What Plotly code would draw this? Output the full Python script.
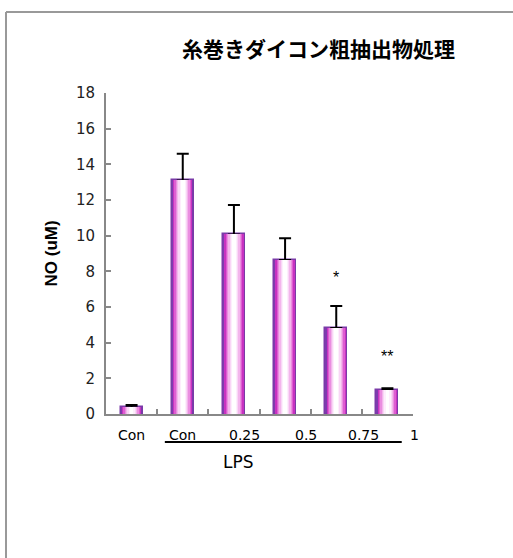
import plotly.graph_objects as go

# ---- data ----
groups = ["Con", "Con", "0.25", "0.5", "0.75", "1"]
no_mean = [0.38, 13.1, 10.07, 8.63, 4.82, 1.34]
no_err = [0.12, 1.5, 1.65, 1.23, 1.24, 0.1]
sig_labels = ["", "", "", "", "*", "**"]
sig_y = [0, 0, 0, 0, 7.65, 3.2]
title_text = "糸巻きダイコン粗抽出物処理"
y_title = "NO (uM)"
lps_text = "LPS"
y_ticks = list(range(0, 19, 2))

# ---- layout helpers (style) ----
W, H = 513, 558
L, R, T, B = 106, 100, 93, 144
pw, ph = W - L - R, H - T - B
def px_x(p):
    return (p - L) / pw
def px_y(p):
    return (H - B - p) / ph

xs = list(range(len(groups)))
label_px = [131, 182, 244, 306, 363, 414]

fig = go.Figure()

bar_w = 0.43
fracs = [1.0, 0.88, 0.76, 0.64, 0.52, 0.40, 0.28, 0.16]
cols = ["#7d3cae", "#c832c0", "#de5ed2", "#ea8ee0", "#f3b6ec", "#f9d6f6", "#fdeefc", "#ffffff"]

for i, (f, c) in enumerate(zip(fracs, cols)):
    kw = {}
    if i == 0:
        kw["error_y"] = dict(type="data", symmetric=False, array=no_err,
                             arrayminus=[0] * len(no_err), color="black",
                             thickness=2, width=6)
        kw["marker"] = dict(color=c, line=dict(color="#7a3aa8", width=1.5))
    else:
        kw["marker"] = dict(color=c, line=dict(width=0))
    fig.add_trace(go.Bar(x=xs, y=no_mean, width=bar_w * f, showlegend=False,
                         hoverinfo="skip", **kw))

fnt = dict(size=14, color="black", family="DejaVu Sans")
annotations = []
for xp, lab in zip(label_px, groups):
    annotations.append(dict(x=px_x(xp), y=px_y(435), xref="paper", yref="paper", text=lab,
                            showarrow=False, font=fnt, xanchor="center", yanchor="middle"))
for xv, s, yv in zip(xs, sig_labels, sig_y):
    if s:
        annotations.append(dict(x=xv, y=yv, xref="x", yref="y", text=s,
                                showarrow=False, font=dict(size=16, color="black",
                                family="Liberation Sans"), yanchor="middle"))
annotations.append(dict(x=2.08, y=px_y(462), xref="x", yref="paper", text=lps_text,
                        showarrow=False, font=dict(size=17, color="black",
                        family="DejaVu Sans"), yanchor="middle"))
annotations.append(dict(x=px_x(318), y=px_y(48), xref="paper", yref="paper",
                        text="<b>" + title_text + "</b>", showarrow=False,
                        font=dict(size=21, color="black", family="Noto Sans CJK JP"),
                        yanchor="middle", xanchor="center"))
annotations.append(dict(x=px_x(51), y=0.5, xref="paper", yref="paper",
                        text="<b>" + y_title + "</b>", showarrow=False, textangle=-90,
                        font=dict(size=17, color="black", family="Liberation Sans"),
                        yanchor="middle", xanchor="center"))

shapes = [
    dict(type="line", xref="x", yref="paper", x0=0.65, x1=5.28,
         y0=px_y(442), y1=px_y(442), line=dict(color="black", width=2)),
    dict(type="line", xref="paper", yref="paper", x0=px_x(6), x1=px_x(520),
         y0=px_y(12), y1=px_y(12), line=dict(color="#999999", width=2)),
    dict(type="line", xref="paper", yref="paper", x0=px_x(6), x1=px_x(6),
         y0=px_y(12), y1=px_y(570), line=dict(color="#999999", width=2)),
]

fig.update_layout(
    width=W, height=H, margin=dict(l=L, r=R, t=T, b=B),
    paper_bgcolor="white", plot_bgcolor="white",
    barmode="overlay", bargap=0,
    annotations=annotations, shapes=shapes,
    font=dict(family="DejaVu Sans", size=15, color="black"),
)
fig.update_xaxes(range=[-0.5, 5.5], showgrid=False, zeroline=False, showline=True,
                 linecolor="#888888", linewidth=2, ticks="inside", ticklen=5,
                 tickcolor="#888888", tickwidth=1.5,
                 tickvals=[0.5, 1.5, 2.5, 3.5, 4.5, 5.5], showticklabels=False)
fig.update_yaxes(range=[0, 18], showgrid=False, zeroline=False, showline=True,
                 linecolor="#888888", linewidth=2, ticks="inside", ticklen=5,
                 tickcolor="#888888", tickwidth=1.5, tickvals=y_ticks,
                 tickfont=dict(size=15, color="#222222", family="DejaVu Sans"),
                 ticklabelstandoff=6)

fig.write_html("out.html")
